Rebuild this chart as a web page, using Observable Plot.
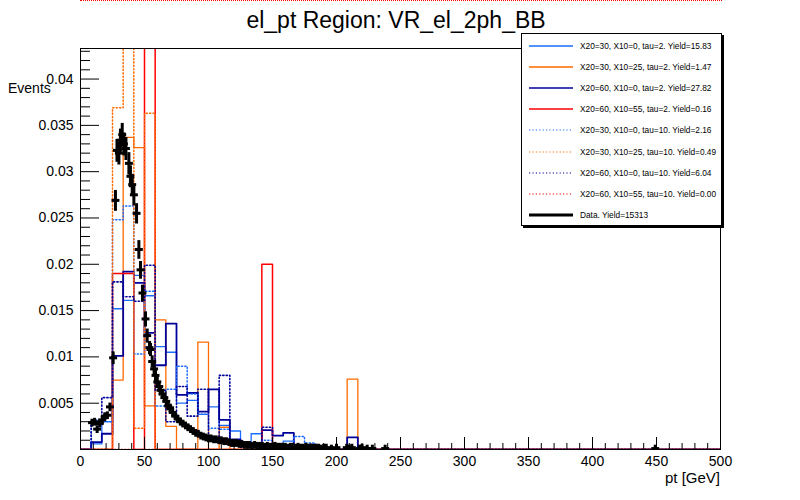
<!DOCTYPE html>
<html><head><meta charset="utf-8">
<script src="https://cdn.jsdelivr.net/npm/d3@7"></script>
<script src="https://cdn.jsdelivr.net/npm/@observablehq/plot@0.6"></script>
<style>
body{margin:0;background:#fff;font-family:"Liberation Sans",Arial,Helvetica,sans-serif;}
#wrap{position:relative;width:800px;height:500px;overflow:hidden;background:#fff}
#chart{position:absolute;left:0;top:0}
#topline{position:absolute;left:80px;top:0;width:642px;height:0;border-top:1px dotted #ff0000}
#title{position:absolute;left:0;width:792px;top:8px;text-align:center;font-size:23px;line-height:24px;color:#000}
#ylabel{position:absolute;left:8px;top:80px;font-size:14px;line-height:16px}
#xlabel{position:absolute;right:80px;top:470px;font-size:15px;line-height:16px}
#legend{position:absolute;left:521px;top:33px;width:199px;height:191px;border:1px solid #000;background:#fff;box-shadow:2px 2px 0 #000}
.row{position:absolute;left:0;height:14px;width:199px}
.row svg{position:absolute;left:6px;top:0}
.row span{position:absolute;left:58px;top:1px;font-size:8.3px;line-height:12px;white-space:nowrap}
</style></head><body>
<div id="wrap">
  <div id="chart"></div>
  <div id="topline"></div>
  <div id="title">el_pt Region: VR_el_2ph_BB</div>
  <div id="ylabel">Events</div>
  <div id="xlabel">pt [GeV]</div>
  <div id="legend"></div>
</div>
<script>
// ---- axis / binning ----
const ptMin = 0, ptMax = 500, nBins = 60;
const yMax = 0.0433;
const xMajorTicks = [0, 50, 100, 150, 200, 250, 300, 350, 400, 450, 500];
const yMajorTicks = [0.005, 0.01, 0.015, 0.02, 0.025, 0.03, 0.035, 0.04];
const dataYield = 15313;

// ---- signal histograms (60 bins of 8.33 GeV) ----
const sigA_tau2 = [0,0.0006,0.0030,0.0152,0.0161,0.0188,0.0166,0.0111,0.0105,0.0050,0.0053,0.0038,0.0046,0.0026,0.0020,0.0004,0.0017,0.0005,0.0006,0.0009,0.0004,0.0002,0.0001,0,0.0001,0,0.0002,0,0,0, 0,0,0,0,0,0,0,0,0,0, 0,0,0,0,0,0,0,0,0,0, 0,0,0,0,0,0,0,0,0,0];
const sigB_tau2 = [0,0,0,0.0075,0.0337,0.0326,0.0047,0.0140,0.0025,0,0,0.0116,0,0.0024,0,0,0,0,0,0,0,0,0,0,0,0.0076,0,0,0,0, 0,0,0,0,0,0,0,0,0,0, 0,0,0,0,0,0,0,0,0,0, 0,0,0,0,0,0,0,0,0,0];
const sigC_tau2 = [0,0.0008,0.0017,0.0101,0.0192,0.0180,0.0126,0.0091,0.0136,0.0059,0.0061,0.0041,0.0065,0.0032,0.0011,0.0005,0.0003,0.0021,0.0015,0.0018,0.0002,0.0001,0,0,0,0.0013,0,0,0,0, 0,0,0,0,0,0,0,0,0,0, 0,0,0,0,0,0,0,0,0,0, 0,0,0,0,0,0,0,0,0,0];
const sigD_tau2 = [0,0,0,0.0190,0.0190,0,0.0800,0,0,0,0,0,0,0,0,0,0,0.0200,0,0,0,0,0,0,0,0,0,0,0,0, 0,0,0,0,0,0,0,0,0,0, 0,0,0,0,0,0,0,0,0,0, 0,0,0,0,0,0,0,0,0,0];
const sigA_tau10 = [0,0.0032,0.0030,0.0248,0.0263,0.0103,0.0171,0.0047,0.0065,0.0090,0.0060,0.0038,0.0023,0.0022,0.0004,0.0003,0.0006,0.0010,0.0004,0.0003,0.0014,0.0007,0,0,0,0,0,0,0,0, 0,0,0,0,0,0,0,0,0,0, 0,0,0,0,0,0,0,0,0,0, 0,0,0,0,0,0,0,0,0,0];
const sigB_tau10 = [0,0,0,0.0369,0.0700,0.0023,0.0363,0,0,0,0,0,0,0,0,0,0,0,0,0,0,0,0,0,0,0,0,0,0,0, 0,0,0,0,0,0,0,0,0,0, 0,0,0,0,0,0,0,0,0,0, 0,0,0,0,0,0,0,0,0,0];
const sigC_tau10 = [0,0.0029,0.0056,0.0181,0.0165,0.0160,0.0199,0.0064,0.0030,0.0068,0.0036,0.0065,0.0011,0.0080,0.0005,0,0,0.0024,0,0,0,0,0,0,0,0,0,0,0,0, 0,0,0,0,0,0,0,0,0,0, 0,0,0,0,0,0,0,0,0,0, 0,0,0,0,0,0,0,0,0,0];
const sigD_tau10 = [0,0,0,0,0,0,0,0,0,0,0,0,0,0,0,0,0,0,0,0,0,0,0,0,0,0,0,0,0,0, 0,0,0,0,0,0,0,0,0,0, 0,0,0,0,0,0,0,0,0,0, 0,0,0,0,0,0,0,0,0,0];

// ---- data points ----
const dataPt = [9,11,13,15,17,19,21,23,25.5,27.3,28.5,30,31.2,32.6,33.9,35.5,37.8,39,40.4,41.7,43.8,45.6,46.9,48.4,50.8,52.1,53.9,54.7,56,57.5,58.6,60,61.5,62.5,64,65.5,67,68.5,70,72,74,76,78,80,82,84,86,88,90,92,94,96,98,100,102,104,106,108,110,112,114,116,118,120,122,124,126,128,130,132,134,136,138,140,142,144,146,148,150,152,154,156,158,160,162,164,166,168,170,172,174,176,178,180,182,184,186,188,190,192,196,200,208,210,212,218,220,224,228,238,449];
const dataVal = [0.0029,0.0030,0.0022,0.0028,0.0032,0.0036,0.0037,0.0046,0.0099,0.0269,0.0323,0.0320,0.0334,0.0340,0.0330,0.0325,0.0309,0.0295,0.0286,0.0275,0.0255,0.0216,0.0194,0.0169,0.0141,0.0123,0.0110,0.0108,0.0095,0.0087,0.0080,0.0073,0.0068,0.0064,0.0060,0.0056,0.0052,0.0047,0.0045,0.0040,0.0036,0.0033,0.0030,0.0028,0.0026,0.0024,0.0022,0.0020,0.0018,0.0017,0.0015,0.0014,0.0013,0.0012,0.0012,0.0011,0.0011,0.0010,0.0010,0.0009,0.0009,0.0008,0.0007,0.0007,0.0007,0.0006,0.0006,0.0005,0.0005,0.0005,0.0004,0.0005,0.0004,0.0004,0.0004,0.0003,0.0004,0.0003,0.0003,0.0004,0.0003,0.0003,0.0003,0.0003,0.0002,0.0003,0.0003,0.0002,0.0003,0.0002,0.0002,0.0003,0.0002,0.0002,0.0002,0.0002,0.0002,0.0001,0.0002,0.0002,0.0001,0.0002,0.0002,0.0001,0.0002,0.0001,0.0002,0.0001,0.0001,0.0001,0.0001];

const legendLabels = [
  "X20=30, X10=0, tau=2. Yield=15.83",
  "X20=30, X10=25, tau=2. Yield=1.47",
  "X20=60, X10=0, tau=2. Yield=27.82",
  "X20=60, X10=55, tau=2. Yield=0.16",
  "X20=30, X10=0, tau=10. Yield=2.16",
  "X20=30, X10=25, tau=10. Yield=0.49",
  "X20=60, X10=0, tau=10. Yield=6.04",
  "X20=60, X10=55, tau=10. Yield=0.00",
  "Data. Yield=15313"
];

// ---- styles ----
const cBlue = "#1a6bff", cOrange = "#ff6a00", cNavy = "#000099", cRed = "#ff0000";
const series = [
  {vals: sigA_tau2, color: cBlue, dash: null, w: 1.3},
  {vals: sigB_tau2, color: cOrange, dash: null, w: 1.3},
  {vals: sigC_tau2, color: cNavy, dash: null, w: 1.8},
  {vals: sigD_tau2, color: cRed, dash: null, w: 1.5},
  {vals: sigA_tau10, color: cBlue, dash: "1.2,2.2", w: 1.5},
  {vals: sigB_tau10, color: cOrange, dash: "1.2,2.2", w: 1.5},
  {vals: sigC_tau10, color: cNavy, dash: "1.2,2.2", w: 1.6},
  {vals: sigD_tau10, color: cRed, dash: "1.2,2.2", w: 1.5}
];

const binW = (ptMax - ptMin) / nBins;
function steps(vals) {
  const pts = [];
  for (let i = 0; i <= nBins; i++) pts.push({x: ptMin + i * binW, y: i < nBins ? vals[i] : 0});
  return pts;
}

const pts = dataPt.map((x, i) => {
  const v = dataVal[i];
  const e = Math.max(Math.sqrt(v / dataYield) * 0.85, 0.00042);
  return {x, v, lo: v - e, hi: v + e};
});

const yMinorTicks = d3.range(0.001, yMax, 0.001).filter(t => Math.abs(t / 0.005 - Math.round(t / 0.005)) > 1e-6);
const xMinorTicks = d3.range(ptMin, ptMax + 1, 10).filter(t => t % 50 !== 0);

const marks = [];
for (const s of series) {
  marks.push(Plot.line(steps(s.vals), {x: "x", y: "y", curve: "step-after", stroke: s.color, strokeWidth: s.w, strokeDasharray: s.dash, clip: true}));
}
marks.push(Plot.link(pts, {x1: "x", x2: "x", y1: "lo", y2: "hi", stroke: "#000", strokeWidth: 3, clip: true}));
marks.push(Plot.link(pts, {x1: d => d.x - 3.1, x2: d => d.x + 3.1, y1: "v", y2: "v", stroke: "#000", strokeWidth: 3, clip: true}));
marks.push(Plot.frame({stroke: "#000", strokeWidth: 1}));
marks.push(Plot.axisY(yMajorTicks, {anchor: "left", tickSize: -19, tickPadding: 26, tickFormat: d => String(+d.toFixed(3)), fontSize: 14, label: null}));
marks.push(Plot.axisY(yMinorTicks, {anchor: "left", tickSize: -10, tickFormat: () => "", label: null}));
marks.push(Plot.axisX(xMajorTicks, {anchor: "bottom", tickSize: -12, tickPadding: 19, tickFormat: d => String(d), fontSize: 14, label: null}));
marks.push(Plot.axisX(xMinorTicks, {anchor: "bottom", tickSize: -6, tickFormat: () => "", label: null}));

const chart = Plot.plot({
  width: 800, height: 500,
  marginLeft: 80, marginRight: 80, marginTop: 48, marginBottom: 51,
  style: {fontFamily: '"Liberation Sans", Arial, Helvetica, sans-serif', fontSize: "14px", color: "#000", background: "transparent"},
  x: {domain: [ptMin, ptMax], label: null},
  y: {domain: [0, yMax], label: null},
  marks
});
document.getElementById("chart").appendChild(chart);

// ---- legend ----
const leg = document.getElementById("legend");
const legStyles = series.map(s => ({color: s.color, dash: s.dash, w: s.dash ? 1.2 : 1.3})).concat([{color: "#000", dash: null, w: 3}]);
legendLabels.forEach((lab, i) => {
  const row = document.createElement("div");
  row.className = "row";
  row.style.top = (5 + i * 21.1) + "px";
  const st = legStyles[i];
  row.innerHTML = `<svg width="46" height="14"><line x1="1" x2="45" y1="7" y2="7" stroke="${st.color}" stroke-width="${st.w}" ${st.dash ? `stroke-dasharray="${st.dash}"` : ""}/></svg><span>${lab}</span>`;
  leg.appendChild(row);
});
</script>
</body></html>
